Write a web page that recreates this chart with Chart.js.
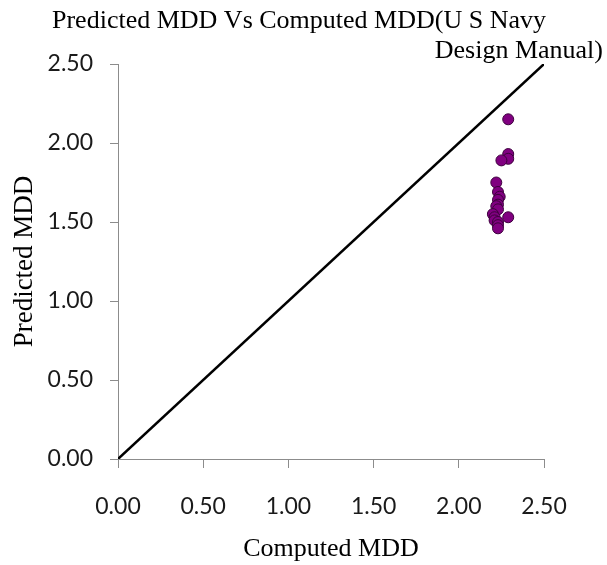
<!DOCTYPE html>
<html>
<head>
<meta charset="utf-8">
<script src="https://cdn.jsdelivr.net/npm/chart.js@4"></script>
<style>
  html, body { margin: 0; padding: 0; background: #fff; }
  #wrap { width: 607px; height: 565px; }
</style>
</head>
<body>
<div id="wrap"><canvas id="mddChart" width="607" height="565"></canvas></div>
<script>
// Computed MDD vs predicted MDD
const computedMDD = [2.29, 2.29, 2.29, 2.25, 2.22, 2.23, 2.24, 2.23, 2.23, 2.22, 2.23, 2.20, 2.29, 2.21, 2.21, 2.23, 2.23, 2.23];
const predictedMDD = [2.15, 1.93, 1.90, 1.89, 1.75, 1.69, 1.66, 1.64, 1.61, 1.60, 1.58, 1.55, 1.53, 1.53, 1.51, 1.50, 1.48, 1.46];

// 1:1 line
const lineX = [0, 2.5];
const lineY = [0, 2.5];

const titleLines = ['Predicted MDD Vs Computed MDD(U S Navy', 'Design Manual)'];

const points = computedMDD.map((x, i) => ({ x: x, y: predictedMDD[i] }));
const diag = lineX.map((x, i) => ({ x: x, y: lineY[i] }));

const serif = '"Liberation Serif", "Times New Roman", serif';
const sans = 'Lato, "Open Sans", sans-serif';

// title is two lines with different alignment, so draw it by hand
const titlePlugin = {
    id: 'twoLineTitle',
    afterDraw(chart) {
        const c = chart.ctx;
        c.save();
        c.fillStyle = '#000';
        c.font = '26px ' + serif;
        c.textBaseline = 'alphabetic';
        c.textAlign = 'left';
        c.fillText(titleLines[0], 52, 28);
        c.textAlign = 'right';
        c.fillText(titleLines[1], 603, 58);
        c.restore();
    }
};

const ctx = document.getElementById('mddChart').getContext('2d');

const config = {
    type: 'scatter',
    data: {
        datasets: [
            {
                label: 'Predicted',
                data: points,
                backgroundColor: '#800080',
                borderColor: '#3d003d',
                borderWidth: 1,
                pointRadius: 5.5,
                order: 1
            },
            {
                label: '1:1',
                data: diag,
                showLine: true,
                borderColor: '#000',
                borderWidth: 2.5,
                pointRadius: 0,
                order: 2
            }
        ]
    },
    options: {
        responsive: false,
        animation: false,
        layout: { padding: { top: 64, right: 63, left: 0, bottom: 0 } },
        plugins: {
            legend: { display: false },
            tooltip: { enabled: false }
        },
        scales: {
            x: {
                type: 'linear',
                min: 0,
                max: 2.5,
                afterFit: (s) => { s.height = 106; },
                border: { color: '#8c8c8c', width: 1 },
                grid: { drawOnChartArea: false, color: '#8c8c8c', tickLength: 9 },
                ticks: {
                    stepSize: 0.5,
                    padding: 25,
                    color: '#1a1a1a',
                    font: { family: sans, size: 23 },
                    callback: (v) => v.toFixed(2)
                },
                title: {
                    display: true,
                    text: 'Computed MDD',
                    color: '#000',
                    font: { family: serif, size: 26 },
                    padding: { top: 0, bottom: 0 }
                }
            },
            y: {
                type: 'linear',
                min: 0,
                max: 2.5,
                afterFit: (s) => { s.width = 118; },
                border: { color: '#8c8c8c', width: 1 },
                grid: { drawOnChartArea: false, color: '#8c8c8c', tickLength: 8 },
                ticks: {
                    stepSize: 0.5,
                    padding: 17,
                    color: '#1a1a1a',
                    font: { family: sans, size: 23 },
                    callback: (v) => v.toFixed(2)
                },
                title: {
                    display: true,
                    text: 'Predicted MDD',
                    color: '#000',
                    font: { family: serif, size: 27 },
                    padding: { top: 9, bottom: 0 }
                }
            }
        }
    },
    plugins: [titlePlugin]
};

const mddChart = new Chart(ctx, config);
</script>
</body>
</html>
